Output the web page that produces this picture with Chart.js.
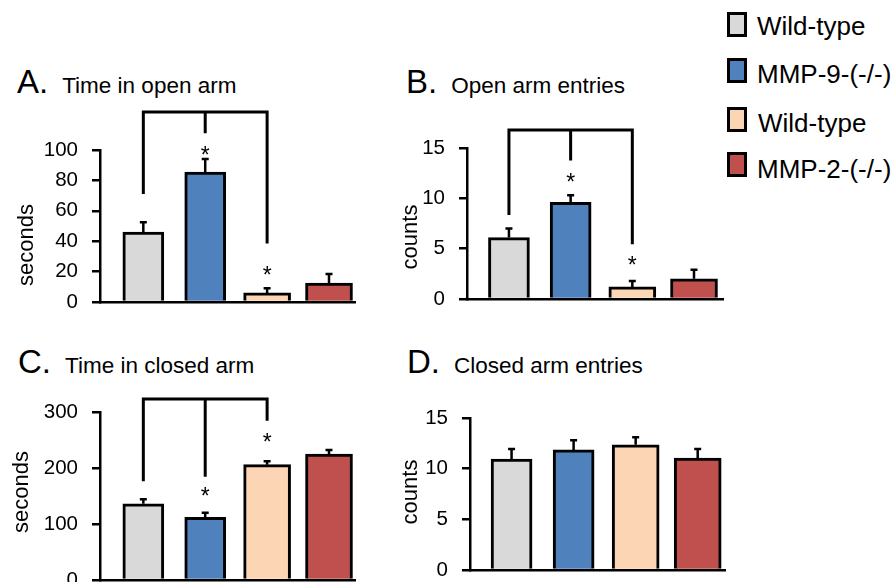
<!DOCTYPE html>
<html><head><meta charset="utf-8">
<script src="https://cdn.jsdelivr.net/npm/chart.js@4.4.0/dist/chart.umd.min.js"></script>
<style>
html,body{margin:0;padding:0;background:#fff;width:895px;height:582px;overflow:hidden;}
body{position:relative;font-family:"Liberation Sans",Arial,sans-serif;color:#000;}
canvas{position:absolute;}
.ttl{position:absolute;font-size:33px;line-height:33px;white-space:nowrap;}
.ttl span{font-size:22.5px;margin-left:14px;}
.sq{position:absolute;left:727px;width:20px;height:25px;box-sizing:border-box;border:3px solid #000;}
.lt{position:absolute;left:757px;font-size:26px;line-height:26px;white-space:nowrap;}
</style></head>
<body>
<div class="ttl" style="left:17px;top:65px">A.<span>Time in open arm</span></div>
<div class="ttl" style="left:406px;top:65px">B.<span>Open arm entries</span></div>
<div class="ttl" style="left:18px;top:345px">C.<span>Time in closed arm</span></div>
<div class="ttl" style="left:407px;top:345px">D.<span>Closed arm entries</span></div>

<div id="legend"></div>

<canvas id="cA" width="380" height="232" style="left:0;top:100px"></canvas>
<canvas id="cB" width="380" height="229" style="left:370px;top:100px"></canvas>
<canvas id="cC" width="380" height="230" style="left:0;top:380px"></canvas>
<canvas id="cD" width="380" height="220" style="left:370px;top:380px"></canvas>

<script>
// ---- data ----
const groups = ['Wild-type', 'MMP-9-(-/-)', 'Wild-type', 'MMP-2-(-/-)'];
const groupColors = ['#d9d9d9', '#4f81bd', '#fcd5b5', '#c0504d'];

const timeOpenMean = [46, 85.5, 6, 12.5];
const timeOpenSem = [6.5, 8.5, 3, 6];
const openEntriesMean = [6.1, 9.6, 1.2, 2.0];
const openEntriesSem = [0.9, 0.7, 0.6, 0.9];
const timeClosedMean = [136, 112, 206, 225];
const timeClosedSem = [8, 8, 6, 7];
const closedEntriesMean = [10.95, 11.85, 12.35, 11.05];
const closedEntriesSem = [1.0, 0.95, 0.75, 0.9];

const ticksTimeOpen = [0, 20, 40, 60, 80, 100];
const ticksCounts = [0, 5, 10, 15];
const ticksTimeClosed = [0, 100, 200, 300];

// significance brackets: [top, drop at group 0, group 1, group 2] (value units)
const bracketA = [125, 72, 112, 39.5];
const bracketB = [16.8, 8.5, 13.9, 5.6];
const bracketC = [323, 179, 187, 287];
// asterisk centres (value units), null = none
const starsA = [null, 100, 21, null];
const starsB = [null, 12.1, 3.9, null];
const starsC = [null, 159, 255, null];

// ---- legend ----
const legendSquareTops = [12, 58, 107, 152];
const legendTextTops = [13, 61, 110, 156];
const lg = document.getElementById('legend');
groups.forEach((g, i) => {
  const s = document.createElement('div');
  s.className = 'sq'; s.style.top = legendSquareTops[i] + 'px'; s.style.background = groupColors[i];
  lg.appendChild(s);
  const t = document.createElement('div');
  t.className = 'lt'; t.style.top = legendTextTops[i] + 'px'; t.textContent = g;
  if (i === 2) t.style.left = '758px';
  lg.appendChild(t);
});

// ---- drawing ----
const FONT = '"Liberation Sans", Arial, sans-serif';
const barWidths = [41, 41, 47, 47];

const annot = {
  id: 'annot',
  afterDatasetsDraw(chart, args, o) {
    const ctx = chart.ctx, y = chart.scales.y;
    ctx.save();
    ctx.strokeStyle = '#000';
    ctx.fillStyle = '#000';
    // error bars (upper only)
    ctx.lineWidth = 2.5;
    chart.data.datasets.forEach((ds, i) => {
      const el = chart.getDatasetMeta(i).data[0];
      const top = y.getPixelForValue(o.means[i] + o.sems[i]);
      ctx.beginPath();
      ctx.moveTo(el.x, el.y); ctx.lineTo(el.x, top);
      ctx.moveTo(el.x - 3.5, top); ctx.lineTo(el.x + 3.5, top);
      ctx.stroke();
    });
    const xs = chart.data.datasets.map((d, i) => chart.getDatasetMeta(i).data[0].x);
    if (o.bracket) {
      const b = o.bracket;
      const ty = y.getPixelForValue(b[0]);
      ctx.lineWidth = 3;
      ctx.lineCap = 'square';
      ctx.beginPath();
      ctx.moveTo(xs[0], y.getPixelForValue(b[1]));
      ctx.lineTo(xs[0], ty);
      ctx.lineTo(xs[2], ty);
      ctx.lineTo(xs[2], y.getPixelForValue(b[3]));
      ctx.moveTo(xs[1], ty);
      ctx.lineTo(xs[1], y.getPixelForValue(b[2]));
      ctx.stroke();
    }
    if (o.stars) {
      ctx.font = '23px ' + FONT;
      ctx.textAlign = 'center';
      ctx.textBaseline = 'alphabetic';
      o.stars.forEach((v, i) => {
        if (v === null) return;
        ctx.fillText('*', xs[i], y.getPixelForValue(v) + 13);
      });
    }
    // rotated axis title
    ctx.translate(o.tx, o.ty);
    ctx.rotate(-Math.PI / 2);
    ctx.font = '22px ' + FONT;
    ctx.textAlign = 'center';
    ctx.textBaseline = 'alphabetic';
    ctx.fillText(o.title, 0, 0);
    ctx.restore();
  }
};

function makeChart(id, means, sems, ticks, layout, extra) {
  const datasets = means.map((v, i) => ({
    label: groups[i],
    data: [{ x: i, y: v }],
    backgroundColor: groupColors[i],
    borderColor: '#000',
    borderWidth: 3,
    borderSkipped: 'start',
    barThickness: barWidths[i],
    grouped: false
  }));
  return new Chart(document.getElementById(id), {
    type: 'bar',
    data: { datasets },
    plugins: [annot],
    options: {
      responsive: false,
      animation: false,
      devicePixelRatio: 1,
      layout: { padding: layout.pad },
      plugins: {
        legend: { display: false },
        tooltip: { enabled: false },
        annot: Object.assign({ means, sems }, extra)
      },
      scales: {
        x: {
          type: 'linear', min: layout.xmin, max: layout.xmax, offset: false,
          ticks: { display: false },
          grid: { display: false, drawTicks: false },
          border: { display: true, color: '#000', width: 2.5 },
          afterFit(s) { s.height = 0; }
        },
        y: {
          min: ticks[0], max: ticks[ticks.length - 1],
          afterBuildTicks(s) { s.ticks = ticks.map(v => ({ value: v })); },
          ticks: { color: '#000', font: { family: FONT, size: 20.5 }, padding: 14 },
          grid: { drawOnChartArea: false, drawTicks: true, tickLength: 8, color: '#000', lineWidth: 2.5 },
          border: { display: true, color: '#000', width: 2.5 },
          afterFit(s) { s.width = layout.yw; }
        }
      }
    }
  });
}

makeChart('cA', timeOpenMean, timeOpenSem, ticksTimeOpen,
  { pad: { top: 50, right: 25, bottom: 30, left: 0 }, yw: 100, xmin: -0.70, xmax: 3.42 },
  { bracket: bracketA, stars: starsA, title: 'seconds', tx: 33, ty: 145 });
makeChart('cB', openEntriesMean, openEntriesSem, ticksCounts,
  { pad: { top: 48, right: 27, bottom: 30, left: 0 }, yw: 97, xmin: -0.68, xmax: 3.47 },
  { bracket: bracketB, stars: starsB, title: 'counts', tx: 47, ty: 137 });
makeChart('cC', timeClosedMean, timeClosedSem, ticksTimeClosed,
  { pad: { top: 32, right: 25, bottom: 30, left: 0 }, yw: 100, xmin: -0.70, xmax: 3.42 },
  { bracket: bracketC, stars: starsC, title: 'seconds', tx: 28, ty: 112 });
makeChart('cD', closedEntriesMean, closedEntriesSem, ticksCounts,
  { pad: { top: 38, right: 25, bottom: 30, left: 0 }, yw: 100, xmin: -0.67, xmax: 3.44 },
  { title: 'counts', tx: 47, ty: 112 });
</script>
</body></html>
